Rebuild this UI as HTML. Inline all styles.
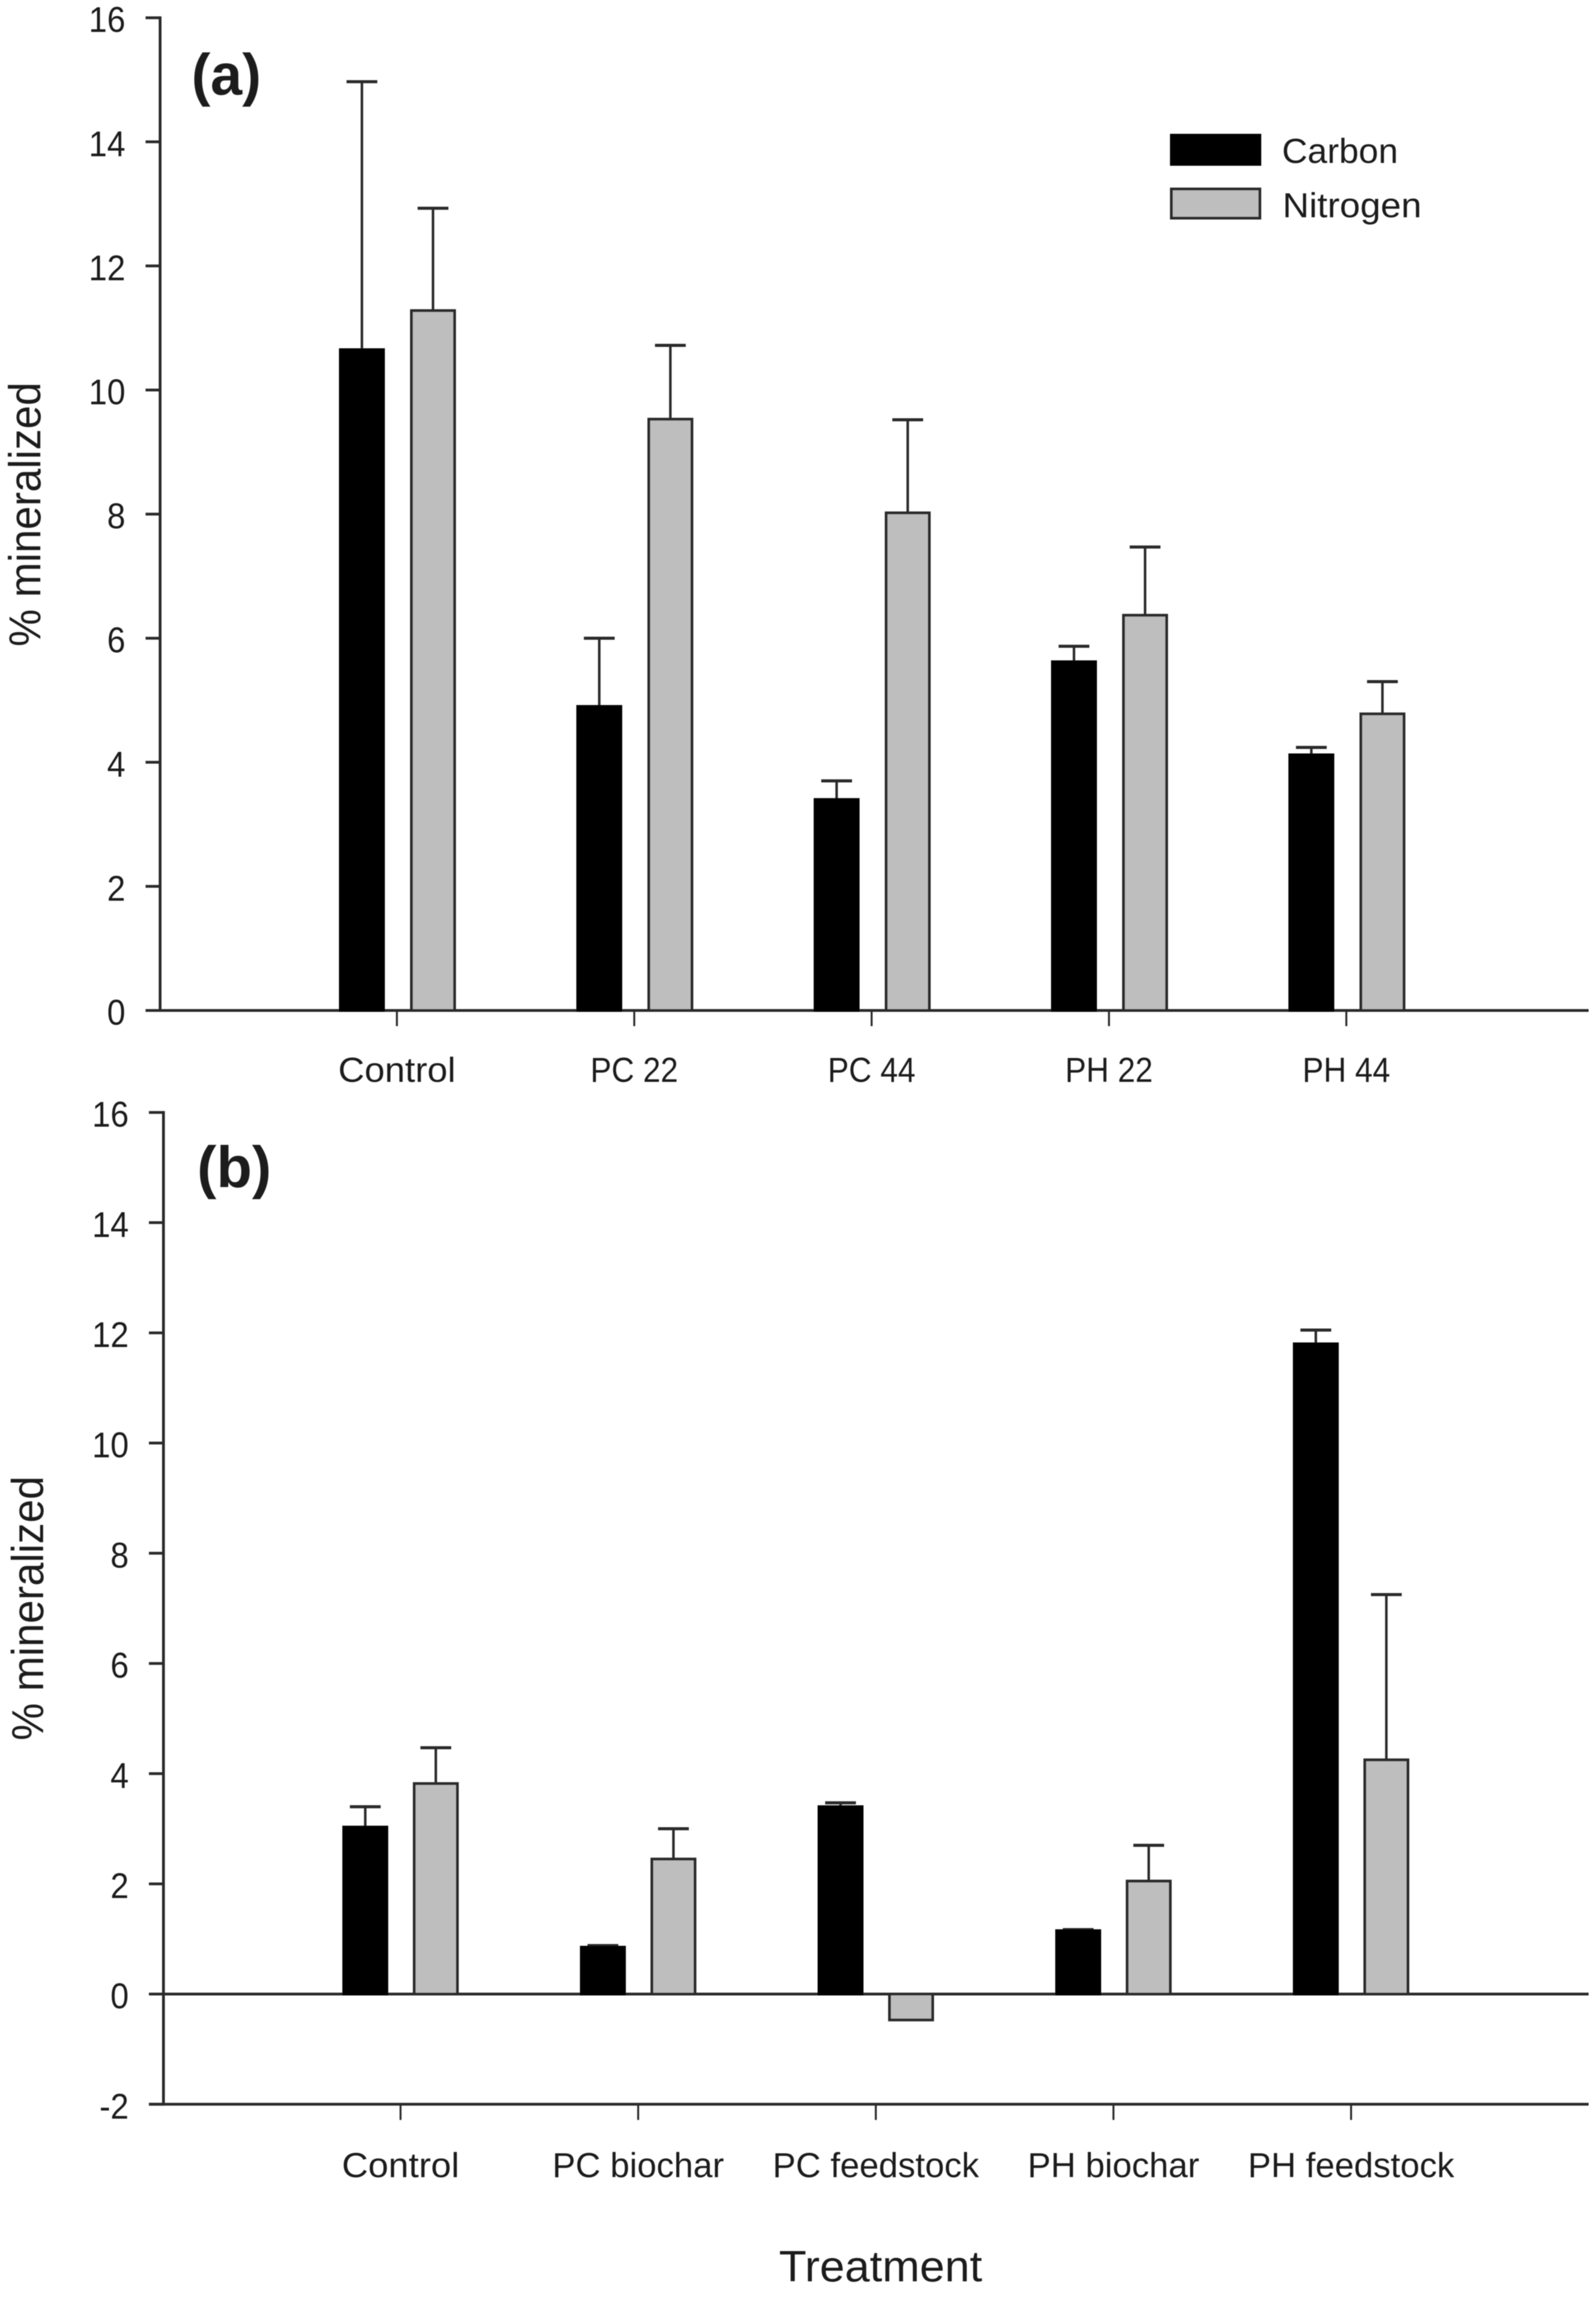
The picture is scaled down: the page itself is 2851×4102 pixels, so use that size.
<!DOCTYPE html>
<html>
<head>
<meta charset="utf-8">
<title>Percent mineralized by treatment</title>
<style>
html,body{margin:0;padding:0;background:#fff;}
svg{display:block;}
text{font-family:"Liberation Sans",sans-serif;fill:#1c1c1c;}
</style>
</head>
<body>
<svg id="chart" xmlns="http://www.w3.org/2000/svg" width="2851" height="4102" viewBox="0 0 2851 4102">
<defs><filter id="soft" x="0" y="0" width="100%" height="100%"><feGaussianBlur stdDeviation="0.9"/></filter></defs>
<rect width="2851" height="4102" fill="#fff"/>
<g id="root" filter="url(#soft)"></g>
</svg>
<script>
const categoriesA = ['Control', 'PC 22', 'PC 44', 'PH 22', 'PH 44'];
const carbonA = [10.65, 4.9, 3.4, 5.62, 4.12];
const carbonErrA = [4.32, 1.1, 0.3, 0.25, 0.12];
const nitrogenA = [11.28, 9.53, 8.02, 6.37, 4.78];
const nitrogenErrA = [1.65, 1.19, 1.5, 1.1, 0.52];
const ticksA = [0, 2, 4, 6, 8, 10, 12, 14, 16];

const categoriesB = ['Control', 'PC biochar', 'PC feedstock', 'PH biochar', 'PH feedstock'];
const carbonB = [3.03, 0.85, 3.4, 1.15, 11.8];
const carbonErrB = [0.37, 0.03, 0.07, 0.02, 0.25];
const nitrogenB = [3.82, 2.45, -0.47, 2.05, 4.25];
const nitrogenErrB = [0.65, 0.55, 0, 0.65, 3.0];
const ticksB = [-2, 0, 2, 4, 6, 8, 10, 12, 14, 16];

const root = document.getElementById('root');
const NS = 'http://www.w3.org/2000/svg';
const INK = '#2b2b2b';

function line(name, x1, y1, x2, y2, w) {
  const el = document.createElementNS(NS, 'line');
  
  
  el.setAttribute('x1', x1);
  el.setAttribute('y1', y1);
  el.setAttribute('x2', x2);
  el.setAttribute('y2', y2);
  el.setAttribute('stroke', INK);
  el.setAttribute('stroke-width', w);
  root.appendChild(el);
}

function box(name, x, y, w, h, fill) {
  const el = document.createElementNS(NS, 'rect');
  
  
  el.setAttribute('x', x + 2.5);
  el.setAttribute('y', y + 2.5);
  el.setAttribute('width', Math.max(w - 5, 0));
  el.setAttribute('height', Math.max(h - 5, 0));
  el.setAttribute('fill', fill);
  el.setAttribute('stroke', fill === '#000' ? '#000' : '#2a2a2a');
  el.setAttribute('stroke-width', 5);
  root.appendChild(el);
}

function label(name, str, x, y, size, anchor, sx, opts) {
  const el = document.createElementNS(NS, 'text');
  
  
  el.setAttribute('font-size', size);
  el.setAttribute('text-anchor', anchor);
  const rot = opts && opts.rotate ? ' rotate(' + opts.rotate + ')' : '';
  el.setAttribute('transform', 'translate(' + x + ' ' + y + ')' + rot + ' scale(' + sx + ' 1)');
  if (opts && opts.bold) el.setAttribute('font-weight', 'bold');
  el.textContent = str;
  root.appendChild(el);
}

function categoryScale(str) {
  if (/\d/.test(str)) return 0.91;
  if (str === 'Control') return 1.05;
  return 1.0;
}

function drawPanel(p) {
  const yOf = v => p.y0 - v * p.unit;
  const xOf = i => p.cx0 + i * p.step;
  const top = yOf(p.ticks[p.ticks.length - 1]);
  const bottomVal = p.ticks[0];
  const bottom = yOf(bottomVal);

  line(p.id + '-y-axis', p.axisX, top - 2.5, p.axisX, bottom + 2.5, 5);
  line(p.id + '-x-axis', p.axisX - 26, bottom, 2838, bottom, 5);
  if (bottomVal !== 0) {
    line(p.id + '-zero-line', p.axisX - 26, p.y0, 2838, p.y0, 5);
  }

  p.ticks.forEach(t => {
    line(p.id + '-y-tick-' + t, p.axisX - 26, yOf(t), p.axisX, yOf(t), 5);
    label(p.id + '-y-tick-label-' + t, String(t), p.axisX - 62, yOf(t) + 25.5, 64, 'end', 0.92);
  });

  p.cats.forEach((c, i) => {
    const cx = xOf(i);
    line(p.id + '-x-tick-' + i, cx, bottom, cx, bottom + 28, 3.5);
    label(p.id + '-x-label-' + i, c, cx + p.labelDx, bottom + p.labelDy, 62, 'middle', categoryScale(c));

    [[p.carbon, p.carbonErr, p.offC, '#000', 'carbon'], [p.nitrogen, p.nitrogenErr, p.offN, '#bebebe', 'nitrogen']].forEach(s => {
      const v = s[0][i];
      const e = s[1][i];
      const bx = cx + s[2];
      if (e > 0) {
        line(p.id + '-err-' + s[4] + '-' + i, bx, yOf(v), bx, yOf(v + e), 4.5);
        line(p.id + '-err-cap-' + s[4] + '-' + i, bx - 27.5, yOf(v + e), bx + 27.5, yOf(v + e), 5.5);
      }
      const yTop = Math.min(yOf(v), p.y0);
      const yBot = Math.max(yOf(v), p.y0);
      box(p.id + '-bar-' + s[4] + '-' + i, bx - 41, yTop - 2.5, 82, yBot - yTop + 5, s[3]);
    });
  });
}

drawPanel({ id: 'panel-a', y0: 1804.5, unit: 110.8, axisX: 286, cx0: 709, step: 424, offC: -62.5, offN: 64.5, labelDx: 0, labelDy: 127.5,
  cats: categoriesA, carbon: carbonA, carbonErr: carbonErrA, nitrogen: nitrogenA, nitrogenErr: nitrogenErrA, ticks: ticksA });
drawPanel({ id: 'panel-b', y0: 3561, unit: 98.4, axisX: 292, cx0: 715.5, step: 424.5, offC: -63, offN: 63, labelDx: 0, labelDy: 130,
  cats: categoriesB, carbon: carbonB, carbonErr: carbonErrB, nitrogen: nitrogenB, nitrogenErr: nitrogenErrB, ticks: ticksB });

label('panel-a-label', '(a)', 342, 169, 104, 'start', 0.98, { bold: true });
label('panel-b-label', '(b)', 352, 2120, 104, 'start', 1.0, { bold: true });
label('panel-a-y-title', '% mineralized', 72, 918.5, 80, 'middle', 0.94, { rotate: -90 });
label('panel-b-y-title', '% mineralized', 77, 2872, 80, 'middle', 0.94, { rotate: -90 });
label('x-axis-title', 'Treatment', 1573, 4074, 78, 'middle', 1.03);

box('legend-swatch-carbon', 2090, 239, 163, 57, '#000');
label('legend-label-carbon', 'Carbon', 2290, 291, 62, 'start', 1.02);
box('legend-swatch-nitrogen', 2090, 335, 163, 57, '#bebebe');
label('legend-label-nitrogen', 'Nitrogen', 2291, 388, 62, 'start', 1.06);
</script>
</body>
</html>
